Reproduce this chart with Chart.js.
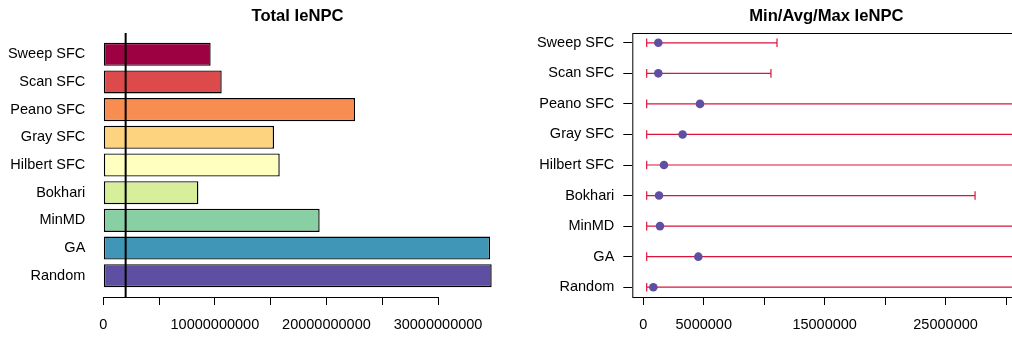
<!DOCTYPE html>
<html>
<head>
<meta charset="utf-8">
<script src="https://cdn.jsdelivr.net/npm/chart.js@4/dist/chart.umd.min.js"></script>
<style>
  html, body { margin: 0; padding: 0; background: #fff; }
  body { width: 1012px; height: 338px; overflow: hidden; position: relative; }
  canvas { position: absolute; top: 0; }
  #total  { left: 0; }
  #minmax { left: 500px; }
</style>
</head>
<body>
<canvas id="total" width="510" height="338"></canvas>
<canvas id="minmax" width="526" height="338"></canvas>
<script>
/* ─── DATA ────────────────────────────────────────────── */
const categories = ['Sweep SFC', 'Scan SFC', 'Peano SFC', 'Gray SFC', 'Hilbert SFC', 'Bokhari', 'MinMD', 'GA', 'Random']

// left panel: total IeNPC per method
const totalIeNPC = [9.62e9, 10.61e9, 22.56e9, 15.30e9, 15.81e9, 8.52e9, 19.39e9, 34.66e9, 34.81e9]
const totalRef   = 2.0e9
const totalTicks = [0, 5e9, 10e9, 15e9, 20e9, 25e9, 30e9]
const totalTickLabels = [0, 10e9, 20e9, 30e9]

// right panel: min / avg / max IeNPC per method
const minIeNPC = [0.28e6, 0.28e6, 0.28e6, 0.28e6, 0.28e6, 0.28e6, 0.28e6, 0.28e6, 0.28e6]
const avgIeNPC = [1.24e6, 1.24e6, 4.69e6, 3.25e6, 1.71e6, 1.30e6, 1.38e6, 4.55e6, 0.83e6]
const maxIeNPC = [11.06e6, 10.56e6, 52e6, 41e6, 38e6, 27.44e6, 45e6, 78e6, 64e6]
const rangeTicks = [0, 5e6, 10e6, 15e6, 20e6, 25e6, 30e6]
const rangeTickLabels = [0, 5e6, 15e6, 25e6]

const barColors = ['#9E0142', '#DD4A4C', '#F88D52', '#FED380', '#FFFFBF', '#D7EF9B', '#88CFA4', '#3F96B7', '#5E4FA2']

/* ─── STYLE ───────────────────────────────────────────── */
const FONT = '"Liberation Sans", Arial, Helvetica, sans-serif'
Chart.defaults.font.family = FONT
Chart.defaults.font.size   = 14.5
Chart.defaults.color       = '#000'

// R-like category positions (bottom-up) so the library places every bar/point
const barPos = categories.map((_, i) => 0.7 + 1.2 * (categories.length - 1 - i))
const dotPos = categories.map((_, i) => categories.length - i)
const labelFor = pos => v => categories[pos.indexOf(v)] ?? ''

/* ─── PLUGINS ─────────────────────────────────────────── */
const plotTitle = {
  id: 'plotTitle',
  afterDraw(chart, _a, opts) {
    const { ctx, chartArea: a } = chart
    ctx.save()
    ctx.font = `bold 16.6px ${FONT}`
    ctx.fillStyle = '#000'
    ctx.textAlign = 'center'
    ctx.textBaseline = 'middle'
    ctx.fillText(opts.text, (a.left + a.right) / 2, 16.5)
    ctx.restore()
  },
}

// axis line from first to last tick, like R's axis()
const axisLine = {
  id: 'axisLine',
  afterDraw(chart) {
    const s = chart.scales.x
    const y = chart.chartArea.bottom + 0.5
    ctx2(chart, ctx => {
      ctx.beginPath()
      ctx.moveTo(s.getPixelForValue(s.ticks[0].value), y)
      ctx.lineTo(s.getPixelForValue(s.ticks[s.ticks.length - 1].value), y)
      ctx.stroke()
    })
  },
}

const refLine = {
  id: 'refLine',
  afterDatasetsDraw(chart) {
    const a = chart.chartArea
    const x = chart.scales.x.getPixelForValue(totalRef)
    ctx2(chart, ctx => {
      ctx.lineWidth = 2
      ctx.beginPath()
      ctx.moveTo(x, a.top)
      ctx.lineTo(x, a.bottom)
      ctx.stroke()
    })
  },
}

const frame = {
  id: 'frame',
  afterDraw(chart) {
    const a = chart.chartArea
    ctx2(chart, ctx => ctx.strokeRect(a.left + 0.5, a.top + 0.5, a.right - a.left, a.bottom - a.top))
  },
}

const errorBars = {
  id: 'errorBars',
  beforeDatasetsDraw(chart) {
    const { chartArea: a, scales: { x, y } } = chart
    ctx2(chart, ctx => {
      ctx.beginPath()
      ctx.rect(a.left, a.top, a.right - a.left, a.bottom - a.top)
      ctx.clip()
      ctx.strokeStyle = '#DC143C'
      ctx.lineWidth = 1.2
      categories.forEach((_, i) => {
        const py = y.getPixelForValue(dotPos[i])
        const x0 = x.getPixelForValue(minIeNPC[i])
        const x1 = x.getPixelForValue(maxIeNPC[i])
        ctx.beginPath()
        ctx.moveTo(x0, py); ctx.lineTo(x1, py)
        ctx.moveTo(x0, py - 4.3); ctx.lineTo(x0, py + 4.3)
        ctx.moveTo(x1, py - 4.3); ctx.lineTo(x1, py + 4.3)
        ctx.stroke()
      })
    })
  },
}

function ctx2(chart, fn) {
  const ctx = chart.ctx
  ctx.save()
  ctx.strokeStyle = '#000'
  ctx.lineWidth = 1
  fn(ctx)
  ctx.restore()
}

const xTickScale = (ticks, shown, min, max, height) => ({
  type: 'linear',
  min, max,
  afterBuildTicks: s => { s.ticks = ticks.map(v => ({ value: v })) },
  afterFit: s => { s.height = height },
  ticks: {
    autoSkip: false,
    maxRotation: 0,
    padding: 11,
    callback: v => shown.includes(v) ? String(v) : '',
  },
  grid:   { drawOnChartArea: false, tickLength: 8, color: '#000' },
  border: { display: false },
})

const BASE_OPTS = {
  responsive: false,
  animation:  false,
  events:     [],
}

/* ─── LEFT: TOTAL ─────────────────────────────────────── */
new Chart(document.getElementById('total'), {
  type: 'bar',
  data: {
    datasets: [{
      data: totalIeNPC.map((v, i) => ({ x: v, y: barPos[i] })),
      backgroundColor:    barColors,
      borderColor:        '#000',
      borderWidth:        1.4,
      borderSkipped:      false,
      barPercentage:      1 / 1.2,
      categoryPercentage: 1,
    }],
  },
  options: {
    ...BASE_OPTS,
    indexAxis: 'y',
    layout: { padding: { top: 33, right: 2.8, left: 0, bottom: 0 } },
    plugins: {
      legend:    { display: false },
      tooltip:   { enabled: false },
      plotTitle: { text: 'Total IeNPC' },
    },
    scales: {
      x: xTickScale(totalTicks, totalTickLabels, -1.392e9, 36.2e9, 41),
      y: {
        type: 'linear',
        min: -0.224, max: 11.224,
        offset: false,
        afterBuildTicks: s => { s.ticks = barPos.map(v => ({ value: v })) },
        afterFit: s => { s.width = 87.8 },
        ticks:  { autoSkip: false, padding: 2.5, callback: labelFor(barPos) },
        grid:   { display: false, drawTicks: false, offset: false },
        border: { display: false },
      },
    },
  },
  plugins: [plotTitle, axisLine, refLine],
})

/* ─── RIGHT: MIN / AVG / MAX ──────────────────────────── */
new Chart(document.getElementById('minmax'), {
  type: 'scatter',
  data: {
    datasets: [{
      data: avgIeNPC.map((v, i) => ({ x: v, y: dotPos[i] })),
      backgroundColor: '#5E4FA2',
      borderWidth:     0,
      pointRadius:     4.3,
    }],
  },
  options: {
    ...BASE_OPTS,
    layout: { padding: { top: 33, right: 5.6, left: 0, bottom: 0 } },
    plugins: {
      legend:    { display: false },
      tooltip:   { enabled: false },
      plotTitle: { text: 'Min/Avg/Max IeNPC' },
    },
    scales: {
      x: xTickScale(rangeTicks, rangeTickLabels, -0.91e6, 31.19e6, 41),
      y: {
        type: 'linear',
        min: 0.68, max: 9.32,
        afterBuildTicks: s => { s.ticks = dotPos.map(v => ({ value: v })) },
        afterFit: s => { s.width = 132.3 },
        ticks:  { autoSkip: false, padding: 9, callback: labelFor(dotPos) },
        grid:   { drawOnChartArea: false, tickLength: 9, color: '#000' },
        border: { display: false },
      },
    },
  },
  plugins: [plotTitle, axisLine, frame, errorBars],
})
</script>
</body>
</html>
